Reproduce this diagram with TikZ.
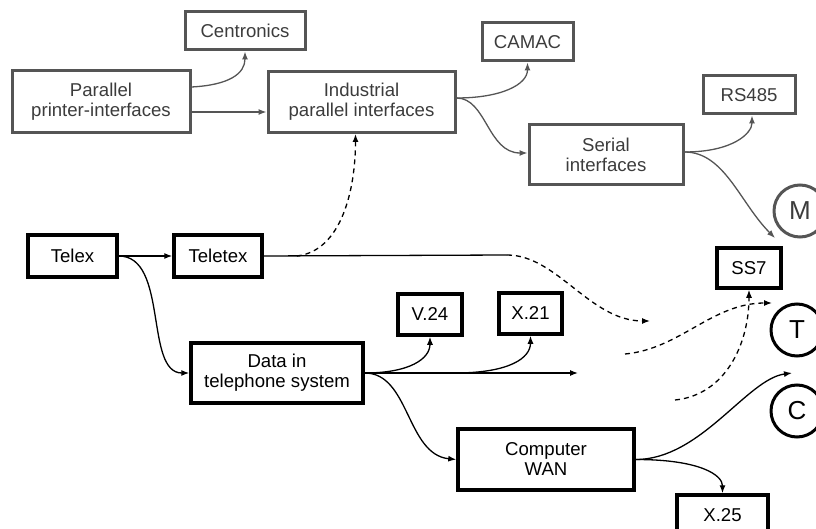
\documentclass[tikz,border=0pt]{standalone}
\usepackage{fontspec}
\setmainfont{Liberation Sans}
\usetikzlibrary{arrows.meta,positioning,calc}
\definecolor{linegray}{HTML}{555555}
\definecolor{textgray}{HTML}{3C3C3C}

\begin{document}
\begin{tikzpicture}[x=1pt,y=-1pt,>={Latex[length=8pt,width=6pt]},
  font=\fontsize{18.6}{20}\selectfont,
  gbox/.style={draw=linegray,text=textgray,line width=3pt,inner sep=0pt,align=center},
  bbox/.style={draw,line width=3.5pt,inner sep=0pt,align=center},
  sig/.style={circle,draw,line width=3pt,minimum size=52pt,inner sep=0pt,font=\fontsize{26}{26}\selectfont},
  gline/.style={draw=linegray,line width=1.3pt},
  bline/.style={line width=1.3pt},
  dline/.style={line width=1.3pt,dash pattern=on 5pt off 4pt}]
\useasboundingbox (0,0) rectangle (816,529);
% parallel and serial interfaces
\node[gbox,minimum width=120pt,minimum height=38pt] (cent) at (245,31) {Centronics};
\node[gbox,minimum width=178pt,minimum height=62pt] (ppi) at (101,102) {Parallel\\printer-interfaces};
\node[gbox,minimum width=187pt,minimum height=61pt] (ipi) at (361.5,102) {Industrial\\parallel interfaces};
\node[gbox,minimum width=91pt,minimum height=38pt] (camac) at (527.5,42) {CAMAC};
\node[gbox,minimum width=92pt,minimum height=38pt] (rs) at (749,95) {RS485};
\node[gbox,minimum width=154pt,minimum height=60pt] (serial) at (606,155) {Serial\\interfaces};
% telex and telephone
\node[bbox,minimum width=89pt,minimum height=42pt] (telex) at (72.5,256) {Telex};
\node[bbox,minimum width=88pt,minimum height=42pt] (teletex) at (218,256) {Teletex};
\node[bbox,minimum width=172pt,minimum height=60pt] (data) at (277,373) {Data in\\telephone system};
\node[bbox,minimum width=64pt,minimum height=41pt] (v24) at (430,314.5) {V.24};
\node[bbox,minimum width=63pt,minimum height=41pt] (x21) at (530.5,313.5) {X.21};
\node[bbox,minimum width=176pt,minimum height=61pt] (wan) at (546,459.5) {Computer\\WAN};
\node[bbox,minimum width=91pt,minimum height=40pt] (x25) at (722.5,515) {X.25};
\node[bbox,minimum width=64pt,minimum height=40pt] (ss7) at (749,268) {SS7};
% M, T, C
\node[sig,draw=linegray,text=textgray] (m) at (800,211) {M};
\node[sig] (t) at (797,330) {T};
\node[sig] (c) at (797,411) {C};

\coordinate (mend) at (775,238);
\coordinate (ttfork) at ($(teletex.east)+(33,0)$);
\coordinate (ttend) at (507,255);
\coordinate (ttarr) at (650,321);
\coordinate (dataend) at (578,373);
\coordinate (x21fork) at (455,373);
\coordinate (carr) at (792,373);
\coordinate (d1a) at (625,354);
\coordinate (d1b) at (772,303);
\coordinate (d2a) at (675,400);

\draw[gline,->] ($(ppi.east)+(0,-15)$) .. controls +(38,-2) and +(0,22) .. (cent.south);
\draw[gline,->] ($(ppi.east)+(0,10)$) -- ($(ipi.west)+(0,10)$);
\draw[gline,->] ($(ipi.east)+(0,-4)$) .. controls +(45,0) and +(0,22) .. (camac.south);
\draw[gline,->] ($(ipi.east)+(0,-4)$) .. controls +(30,0) and +(-40,0) .. ($(serial.west)+(0,-2)$);
\draw[gline,->] ($(serial.east)+(0,-3)$) .. controls +(48,0) and +(0,18) .. ($(rs.south)+(3,0)$);
\draw[gline,->] ($(serial.east)+(0,-3)$) .. controls +(40,0) and +(-35,-35) .. (mend);

\draw[bline,->] (telex.east) -- (teletex.west);
\draw[bline,->] (telex.east) .. controls +(50,0) and +(-45,0) .. (data.west);
\draw[bline] (teletex.east) -- (ttend);
\draw[dline,->] (ttfork) .. controls +(45,-5) and +(0,55) .. ($(ipi.south)+(-6,0)$);
\draw[dline,->] (ttend) .. controls +(50,0) and +(-60,0) .. (ttarr);
\draw[bline,->] (data.east) .. controls +(45,0) and +(0,22) .. (v24.south);
\draw[bline,->] (data.east) -- (dataend);
\draw[bline,->] (x21fork) .. controls +(55,0) and +(0,22) .. (x21.south);
\draw[bline,->] (data.east) .. controls +(45,0) and +(-50,-5) .. (wan.west);
\draw[bline,->] (wan.east) .. controls +(65,0) and +(-45,6) .. (carr);
\draw[bline,->] (wan.east) .. controls +(65,0) and +(0,-18) .. (x25.north);
\draw[dline,->] (d1a) .. controls +(55,-5) and +(-60,0) .. (d1b);
\draw[dline,->] (d2a) .. controls +(50,-5) and +(0,55) .. (ss7.south);
\end{tikzpicture}
\end{document}
